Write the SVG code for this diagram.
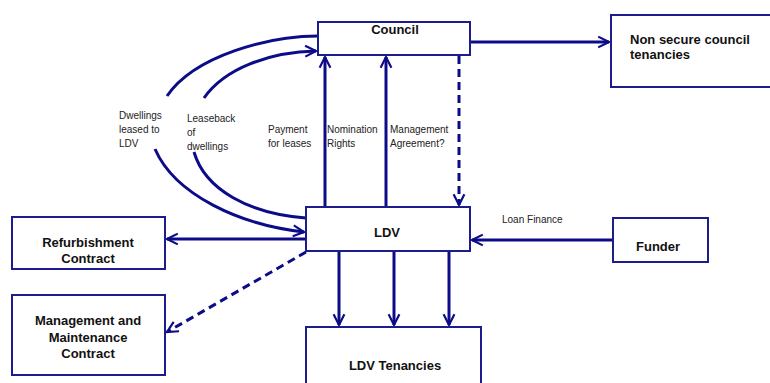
<svg xmlns="http://www.w3.org/2000/svg" width="770" height="383" viewBox="0 0 770 383">
<style>
.box{fill:#fff;stroke:#1c1c8c;stroke-width:2}
.t{font-family:"Liberation Sans",Arial,sans-serif;font-weight:bold;font-size:13px;fill:#111}
.s{font-family:"Liberation Sans",Arial,sans-serif;font-size:10px;fill:#222}
.c{fill:none;stroke:#0c0c88;stroke-width:3}
.d{stroke-dasharray:8,5}
</style>
<defs>
<marker id="ah" viewBox="0 0 10 10" refX="9" refY="5" markerWidth="4.5" markerHeight="4.5" orient="auto" markerUnits="strokeWidth">
<path d="M1,1 L9,5 L1,9" fill="none" stroke="#0c0c88" stroke-width="1.6"/>
</marker>
</defs>
<rect width="770" height="383" fill="#fff"/>
<g id="connectors">
<line class="c" x1="470" y1="42" x2="609" y2="42" marker-end="url(#ah)"/>
<line class="c d" x1="459" y1="56" x2="459" y2="205" marker-end="url(#ah)"/>
<line class="c" x1="325" y1="207" x2="325" y2="57" marker-end="url(#ah)"/>
<line class="c" x1="386" y1="207" x2="386" y2="57" marker-end="url(#ah)"/>
<line class="c" x1="613" y1="240" x2="472" y2="240" marker-end="url(#ah)"/>
<line class="c" x1="306" y1="239" x2="167" y2="239" marker-end="url(#ah)"/>
<line class="c d" x1="306" y1="252" x2="167" y2="332" marker-end="url(#ah)"/>
<line class="c" x1="339" y1="251" x2="339" y2="325" marker-end="url(#ah)"/>
<line class="c" x1="394" y1="251" x2="394" y2="325" marker-end="url(#ah)"/>
<line class="c" x1="449" y1="251" x2="449" y2="325" marker-end="url(#ah)"/>
<path class="c" d="M318,36 C270,36 195,55 167,96"/>
<path class="c" d="M155,149 C175,195 240,225 304,232" marker-end="url(#ah)"/>
<path class="c" d="M306,218 C250,214 205,190 194,152"/>
<path class="c" d="M204,98 C225,68 270,52 316,51" marker-end="url(#ah)"/>
<text class="s" x="119" y="119">Dwellings</text>
<text class="s" x="119" y="133">leased to</text>
<text class="s" x="119" y="147">LDV</text>
<text class="s" x="187" y="122">Leaseback</text>
<text class="s" x="187" y="136">of</text>
<text class="s" x="187" y="150">dwellings</text>
<text class="s" x="268" y="133">Payment</text>
<text class="s" x="268" y="147">for leases</text>
<text class="s" x="327" y="133">Nomination</text>
<text class="s" x="327" y="147">Rights</text>
<text class="s" x="390" y="133">Management</text>
<text class="s" x="390" y="147">Agreement?</text>
<text class="s" x="502" y="223">Loan Finance</text>
</g>
<g id="council">
<rect class="box" x="318" y="22" width="152" height="33"/>
<text class="t" x="395" y="34" text-anchor="middle">Council</text>
</g>
<g id="nonsecure">
<rect class="box" x="611" y="15" width="170" height="72"/>
<text class="t" x="630" y="44">Non secure council</text>
<text class="t" x="630" y="59">tenancies</text>
</g>
<g id="ldv">
<rect class="box" x="306" y="207" width="164" height="44"/>
<text class="t" x="387" y="237" text-anchor="middle">LDV</text>
</g>
<g id="funder">
<rect class="box" x="613" y="218" width="95" height="44"/>
<text class="t" x="636" y="251">Funder</text>
</g>
<g id="refurb">
<rect class="box" x="12" y="217" width="153" height="52"/>
<text class="t" x="88" y="247" text-anchor="middle">Refurbishment</text>
<text class="t" x="88" y="263" text-anchor="middle">Contract</text>
</g>
<g id="mm">
<rect class="box" x="12" y="295" width="153" height="80"/>
<text class="t" x="88" y="325" text-anchor="middle">Management and</text>
<text class="t" x="88" y="342" text-anchor="middle">Maintenance</text>
<text class="t" x="88" y="358" text-anchor="middle">Contract</text>
</g>
<g id="tenancies">
<rect class="box" x="306" y="327" width="175" height="70"/>
<text class="t" x="395" y="370" text-anchor="middle">LDV Tenancies</text>
</g>
</svg>
